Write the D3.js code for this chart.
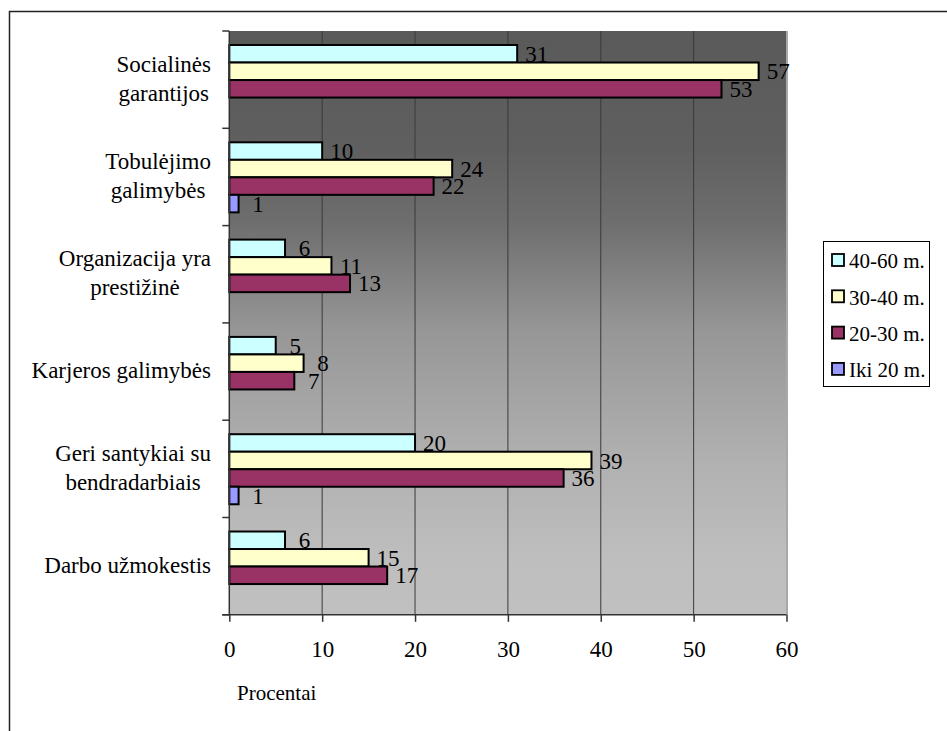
<!DOCTYPE html>
<html>
<head>
<meta charset="utf-8">
<script src="https://cdn.jsdelivr.net/npm/d3@7"></script>
<style>
  html, body { margin: 0; padding: 0; background: #ffffff; }
  svg { display: block; }
</style>
</head>
<body>
<svg id="chart" width="947" height="731"></svg>
<script>
const FONT = "Liberation Serif";

// Category labels (line-broken as they appear beside the axis)
const categories = [
  "Socialinės garantijos",
  "Tobulėjimo galimybės",
  "Organizacija yra prestižinė",
  "Karjeros galimybės",
  "Geri santykiai su bendradarbiais",
  "Darbo užmokestis"
];
const categoryLines = [
  ["Socialinės", "garantijos"],
  ["Tobulėjimo", "galimybės"],
  ["Organizacija yra", "prestižinė"],
  ["Karjeros galimybės"],
  ["Geri santykiai su", "bendradarbiais"],
  ["Darbo užmokestis"]
];

// Age groups (series), top to bottom inside each category
const seriesNames = ["40-60 m.", "30-40 m.", "20-30 m.", "Iki 20 m."];
const seriesColors = ["#ccffff", "#ffffcc", "#993366", "#9999ff"];

// Percent values per age group, in category order (null = no answer)
const values40to60 = [31, 10, 6, 5, 20, 6];
const values30to40 = [57, 24, 11, 8, 39, 15];
const values20to30 = [53, 22, 13, 7, 36, 17];
const valuesIki20  = [null, 1, null, null, 1, null];

const xTicks = [0, 10, 20, 30, 40, 50, 60];
const xTitle = "Procentai";

const seriesValues = [values40to60, values30to40, values20to30, valuesIki20];

const svg = d3.select("#chart").attr("font-family", FONT);

// Outer chart frame
svg.append("rect")
  .attr("x", 9.5).attr("y", 11.5)
  .attr("width", 960).attr("height", 760)
  .attr("fill", "#fff").attr("stroke", "#222").attr("stroke-width", 1.5);

const plot = { left: 229.3, right: 786.5, top: 31, bottom: 614.8 };

const x = d3.scaleLinear().domain([0, 60]).range([plot.left, plot.right]);
const y = d3.scaleBand().domain(categories).range([plot.top, plot.bottom]).padding(0);
const bw = y.bandwidth();
const inner = d3.scaleBand().domain(seriesNames).range([bw * 0.144, bw * 0.864]).padding(0);

// Plot area background: vertical grey gradient
const defs = svg.append("defs");
const grad = defs.append("linearGradient").attr("id", "plotBg")
  .attr("x1", 0).attr("y1", 0).attr("x2", 0).attr("y2", 1);
[[0, "#5a5a5a"], [0.2, "#5f5f5f"], [0.33, "#6e6e6e"], [0.51, "#969696"],
 [0.73, "#b0b0b0"], [0.9, "#bebebe"], [1, "#c0c0c0"]].forEach(([o, c]) =>
  grad.append("stop").attr("offset", o).attr("stop-color", c));

svg.append("rect")
  .attr("x", plot.left).attr("y", plot.top)
  .attr("width", plot.right - plot.left).attr("height", plot.bottom - plot.top)
  .attr("fill", "url(#plotBg)");

// Vertical gridlines
svg.append("g").selectAll("line")
  .data(xTicks.filter(t => t > 0 && t < 60))
  .join("line")
  .attr("x1", d => x(d)).attr("x2", d => x(d))
  .attr("y1", plot.top).attr("y2", plot.bottom)
  .attr("stroke", "#3a3a3a").attr("stroke-width", 1);

// Right edge of plot area
svg.append("line")
  .attr("x1", plot.right + 0.5).attr("x2", plot.right + 0.5)
  .attr("y1", plot.top).attr("y2", plot.bottom)
  .attr("stroke", "#a8a8a8").attr("stroke-width", 2);

// Bars
const rows = [];
seriesNames.forEach((s, si) => {
  categories.forEach((c, ci) => {
    const v = seriesValues[si][ci];
    if (v != null) rows.push({ s, si, c, v });
  });
});

svg.append("g").selectAll("rect")
  .data(rows)
  .join("rect")
  .attr("x", x(0))
  .attr("y", d => y(d.c) + inner(d.s))
  .attr("width", d => x(d.v) - x(0))
  .attr("height", inner.bandwidth())
  .attr("fill", d => seriesColors[d.si])
  .attr("stroke", "#000").attr("stroke-width", 2);

// Value labels
svg.append("g").selectAll("text")
  .data(rows)
  .join("text")
  .attr("x", d => x(d.v) + 19.5)
  .attr("y", d => y(d.c) + inner(d.s) + inner.bandwidth() / 2)
  .attr("dy", "0.35em")
  .attr("text-anchor", "middle")
  .attr("font-family", FONT)
  .attr("font-size", 23)
  .text(d => d.v);

// Category axis (left)
const yAxisG = svg.append("g");
yAxisG.append("line")
  .attr("x1", plot.left).attr("x2", plot.left)
  .attr("y1", plot.top).attr("y2", plot.bottom)
  .attr("stroke", "#333").attr("stroke-width", 1.5);
const boundaries = categories.map(c => y(c)).concat([plot.bottom]);
yAxisG.selectAll("line.tick")
  .data(boundaries)
  .join("line").attr("class", "tick")
  .attr("x1", plot.left - 7).attr("x2", plot.left)
  .attr("y1", d => d).attr("y2", d => d)
  .attr("stroke", "#333").attr("stroke-width", 1.5);

// Category labels: lines centred within a block right-aligned to the axis
const labelRight = 211;
const lineStep = 29;
categories.forEach((c, ci) => {
  const lines = categoryLines[ci];
  const g = svg.append("g");
  const cy = y(c) + bw / 2;
  const texts = lines.map((ln, i) => g.append("text")
    .attr("y", cy + 6.5 + (i - (lines.length - 1) / 2) * lineStep)
    .attr("text-anchor", "middle")
    .attr("font-family", FONT)
    .attr("font-size", 23)
    .text(ln));
  const maxW = d3.max(texts, t => t.node().getComputedTextLength());
  texts.forEach(t => t.attr("x", labelRight - maxW / 2));
});

// Value axis (bottom)
const xAxis = d3.axisBottom(x).tickValues(xTicks).tickSize(7).tickPadding(0).tickFormat(d3.format("d"));
const xAxisG = svg.append("g")
  .attr("transform", `translate(0,${plot.bottom})`)
  .call(xAxis)
  .attr("font-family", FONT)
  .attr("font-size", 23);
xAxisG.select(".domain").attr("stroke", "#333").attr("stroke-width", 1.5)
  .attr("d", `M${plot.left - 7},0H${plot.right}`);
xAxisG.selectAll(".tick line").attr("stroke", "#333").attr("stroke-width", 1.5);
xAxisG.selectAll(".tick text")
  .attr("y", 42).attr("dy", 0)
  .attr("fill", "#000");

svg.append("text")
  .attr("x", 237).attr("y", 700)
  .attr("font-family", FONT)
  .attr("font-size", 21)
  .text(xTitle);

// Legend
const legend = svg.append("g").attr("transform", "translate(823,241)");
legend.append("rect")
  .attr("x", 0.5).attr("y", 0.5).attr("width", 106).attr("height", 145)
  .attr("fill", "#fff").attr("stroke", "#000").attr("stroke-width", 1);
const items = legend.selectAll("g.item")
  .data(seriesNames)
  .join("g").attr("class", "item")
  .attr("transform", (d, i) => `translate(0,${20 + i * 36.3})`);
items.append("rect")
  .attr("x", 9).attr("y", -7).attr("width", 12).attr("height", 12)
  .attr("fill", (d, i) => seriesColors[i])
  .attr("stroke", "#000").attr("stroke-width", 1.8);
items.append("text")
  .attr("x", 26).attr("y", 0).attr("dy", "0.35em")
  .attr("font-family", FONT)
  .attr("font-size", 21)
  .text(d => d);
</script>
</body>
</html>
